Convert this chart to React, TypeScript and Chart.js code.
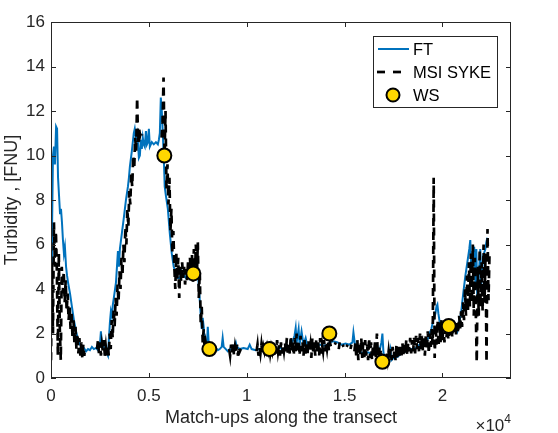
import { useEffect, useRef } from "react";
import { Chart, registerables } from "chart.js";

Chart.register(...registerables);

const FONT = "'Liberation Sans', Arial, Helvetica, sans-serif";
const TXT = "#262626";

const xTickValues = [0, 5000, 10000, 15000, 20000];
const yTickValues = [0, 2, 4, 6, 8, 10, 12, 14, 16];
const xLabel = "Match-ups along the transect";
const yLabel = "Turbidity , [FNU]";
const seriesNames = ["FT", "MSI SYKE", "WS"];

// FT (flow-through) readings: match-up index and turbidity
const ftX = [
  0, 50, 100, 150, 200, 260, 310, 360, 410, 460, 510, 560, 610, 660, 710, 770, 820, 870, 970, 1070,
  1170, 1280, 1380, 1480, 1580, 1680, 1790, 1890, 1990, 2090, 2190, 2300, 2400, 2500, 2550, 2600, 2700, 2810, 2910, 2960,
  3010, 3060, 3110, 3160, 3210, 3320, 3420, 3470, 3520, 3620, 3720, 3830, 3930, 3980, 4030, 4130, 4230, 4280, 4340, 4390,
  4440, 4490, 4540, 4590, 4640, 4690, 4740, 4790, 4850, 4900, 4950, 5000, 5050, 5100, 5150, 5250, 5360, 5460, 5510, 5560,
  5610, 5660, 5710, 5760, 5810, 5870, 5970, 6070, 6170, 6270, 6380, 6480, 6580, 6680, 6780, 6890, 6990, 7090, 7190, 7290,
  7400, 7500, 7600, 7650, 7700, 7750, 7800, 7850, 7910, 7960, 8010, 8060, 8110, 8210, 8310, 8420, 8520, 8620, 8720, 8770,
  8820, 8930, 9030, 9130, 9230, 9330, 9440, 9490, 9640, 9840, 10050, 10150, 10250, 10460, 10660, 10860, 11070, 11270, 11480, 11680,
  11880, 12090, 12290, 12440, 12500, 12550, 12650, 12700, 12800, 12900, 13010, 13110, 13310, 13520, 13720, 13920, 14130, 14230, 14430, 14640,
  14840, 15050, 15250, 15400, 15450, 15500, 15560, 15760, 15960, 16170, 16370, 16580, 16780, 16880, 16930, 16980, 17030, 17190, 17290, 17340,
  17390, 17490, 17700, 17900, 18100, 18310, 18510, 18720, 18820, 19020, 19230, 19330, 19430, 19530, 19640, 19690, 19740, 19790, 19840, 19940,
  20040, 20150, 20250, 20350, 20450, 20550, 20660, 20760, 20860, 20960, 21060, 21170, 21270, 21370, 21420, 21470, 21570, 21620, 21680, 21730,
  21780, 21880, 21930, 21980, 22080, 22190, 22240, 22290,
];
const ftY = [
  4.7, 6.5, 10.0, 10.4, 9.6, 11.3, 11.2, 9.0, 8.2, 7.4, 7.6, 7.0, 6.2, 5.6, 5.9, 5.0, 4.6, 4.3, 3.8, 3.2,
  2.6, 2.1, 1.7, 1.5, 1.4, 1.35, 1.2, 1.3, 1.25, 1.4, 1.3, 1.35, 1.25, 1.5, 2.1, 1.6, 1.4, 1.2, 1.0, 1.8,
  2.5, 3.0, 2.8, 3.3, 3.6, 4.3, 5.7, 5.0, 5.8, 6.5, 7.2, 8.0, 8.6, 9.0, 9.5, 10.2, 11.0, 11.2, 10.8, 11.0,
  10.6, 9.9, 10.0, 10.7, 10.3, 10.8, 10.5, 10.4, 11.1, 10.5, 10.6, 11.2, 10.4, 10.5, 10.6, 10.5, 10.6, 10.5, 10.7, 11.0,
  12.6, 12.0, 11.0, 10.0, 8.6, 8.2, 7.6, 6.5, 5.6, 5.0, 4.7, 4.5, 4.5, 4.8, 4.6, 4.5, 4.9, 4.5, 4.7, 4.6,
  5.0, 4.8, 3.5, 2.8, 2.2, 2.7, 2.3, 1.6, 1.3, 1.35, 2.3, 1.5, 1.3, 1.25, 1.3, 1.35, 1.25, 1.3, 1.4, 1.8,
  1.4, 1.3, 1.2, 1.3, 1.25, 1.35, 1.6, 1.4, 1.3, 1.35, 1.3, 1.5, 1.3, 1.25, 1.3, 1.3, 1.3, 1.25, 1.3, 1.35,
  1.3, 1.4, 1.5, 1.9, 2.25, 1.6, 2.2, 1.5, 2.1, 1.5, 1.8, 1.4, 1.45, 1.4, 1.5, 1.45, 1.5, 1.6, 1.65, 1.6,
  1.5, 1.55, 1.5, 1.6, 2.05, 1.7, 1.3, 1.2, 1.1, 1.15, 1.1, 1.15, 1.2, 1.6, 2.0, 1.2, 0.8, 0.75, 1.0, 1.25,
  0.8, 0.9, 0.95, 1.1, 1.2, 1.3, 1.3, 1.4, 1.5, 1.7, 1.7, 2.0, 2.2, 2.6, 2.9, 3.2, 3.3, 2.9, 2.6, 2.2,
  2.2, 2.1, 2.2, 2.1, 2.0, 2.2, 2.3, 2.1, 2.5, 3.0, 3.8, 4.6, 5.2, 5.8, 6.2, 5.0, 5.6, 5.9, 4.2, 5.8,
  3.5, 5.0, 5.8, 4.2, 5.5, 5.8, 6.1, 6.3,
];

// MSI SYKE readings, one every 50 match-ups (null = no retrieval)
const msiStep = 50;
const msiY: (number | null)[] = [
  0.8, 5.2, 2.0, 7.0, 5.0, 6.6, 4.8, 1.0, 5.6, 2.2, 0.8, 5.0, 3.8, 4.8, 3.4, 4.4, 3.0, 3.8, 2.6, 3.2,
  2.2, 3.0, 1.8, 2.6, 1.5, 2.3, 1.3, 2.0, 1.1, 1.8, 1.0, 1.6, 0.9, 1.5, 1.0, 1.4, null, null, null, null,
  null, null, null, null, null, null, null, 1.3, 1.7, 1.1, 1.6, 1.0, 1.5, 1.2, 1.7, 1.0, 1.4, 0.95, 1.5, 1.0,
  2.0, 1.3, 2.6, 1.8, 3.1, 2.3, 3.6, 2.8, 4.2, 3.4, 4.8, 4.0, 5.4, 4.6, 6.0, 5.2, 6.8, 6.0, 7.6, 6.8,
  8.4, 7.8, 9.2, 8.6, 10.0, 9.4, 10.8, 10.2, 12.6, 10.6, 11.2, 10.9, 11.1, 10.9, null, null, null, null, null, null,
  null, null, null, null, null, null, null, null, null, null, null, null, null, 10.8, 11.5, 13.5, 10.0, 12.0, 8.5, 9.6,
  7.8, 9.0, 6.6, 7.6, 5.6, 6.6, 5.0, 4.0, 5.6, 4.4, 5.4, 3.6, 5.0, 4.3, 5.2, 4.5, 5.0, 4.2, 4.9, 4.4,
  5.2, 4.5, 5.4, 4.6, 5.6, 4.3, 5.8, 4.4, 6.0, 4.5, 6.1, 3.6, 4.8, 2.4, 3.2, 1.6, 2.2, 1.3, 1.6, 1.3,
  1.2, 1.4, null, null, null, null, null, null, null, null, null, null, null, null, null, null, null, null, null, null,
  null, null, 1.3, 1.0, 1.5, 1.1, 1.6, 1.0, 1.4, 1.1, 1.5, 1.0, 1.4, 1.2, 1.3, null, null, null, null, null,
  null, null, null, null, null, null, null, null, null, null, 1.2, 1.5, 1.0, 1.4, 1.1, 1.5, 1.1, 1.4, 1.2, 1.5,
  1.1, 1.4, 1.2, 1.5, 1.1, 1.4, 1.2, 1.6, 1.0, 1.5, 1.1, 1.7, 1.2, 1.5, 1.0, 1.6, 1.1, 1.5, 1.2, 1.6,
  1.2, 1.8, 1.0, 1.6, 1.1, 1.9, 1.2, 1.7, 1.0, 1.8, 1.2, 2.0, 1.1, 1.7, 1.0, 1.9, 1.2, 1.6, 1.0, 1.7,
  1.1, 1.6, 1.0, 1.7, 1.2, 1.5, 0.9, 1.8, 1.1, 1.6, 1.0, 1.7, 1.2, 1.6, 1.0, 1.8, 1.1, 1.5, 1.2, 1.7,
  1.2, 1.6, 1.3, 1.7, 1.2, 1.6, 1.4, 1.7, null, null, 1.5, 1.6, null, null, 1.3, 1.6, null, null, 1.5, 1.4,
  null, null, 1.4, 1.5, null, null, 1.3, 1.5, null, null, 1.2, 1.6, 0.9, 1.7, 0.8, 1.6, 1.0, 1.8, 0.9, 1.6,
  0.8, 1.7, 1.0, 1.5, 0.8, 1.8, 0.9, 1.6, 0.8, 1.5, 1.0, 1.6, 0.9, 2.0, 1.0, 1.5, 0.8, 1.3, 0.9, 1.2,
  1.0, 0.7, null, 1.1, 0.8, 1.2, 0.8, 1.3, 0.8, 1.4, 0.9, 1.3, 0.8, 1.5, 0.9, 1.4, 1.0, 1.5, 0.9, 1.6,
  1.0, 1.6, 1.1, 1.7, 1.0, 1.6, 1.2, 1.8, 1.1, 1.7, 1.2, 1.8, 1.1, 1.9, 1.3, 1.8, 1.2, 2.0, 1.3, 1.9,
  1.2, 1.9, 1.0, 2.0, 1.3, 2.1, 1.1, 2.0, 1.4, 2.2, 1.5, 9.0, 0.9, 2.4, 1.5, 2.6, 1.4, 2.5, 1.6, 2.6,
  1.7, 2.4, 1.6, 2.5, 1.8, 2.3, 1.7, 2.4, 1.9, 2.5, 1.8, 2.6, 2.0, 2.5, 1.9, 2.6, 2.0, 2.8, 2.2, 3.0,
  2.3, 3.4, 2.6, 4.0, 2.8, 4.6, 3.0, 5.2, 3.2, 5.6, 3.4, 6.0, 2.8, 5.4, 3.0, 0.7, 5.0, 2.8, 5.8, 3.2,
  5.2, 3.0, 6.0, 3.4, 5.6, 0.7, 6.7, 3.5, 5.5,
];

// WS (water samples)
const wsX = [5790, 7270, 8090, 11160, 14220, 16930, 20320];
const wsY = [10.0, 4.7, 1.3, 1.3, 2.0, 0.73, 2.34];

const BLUE = "#0072BD";
const GOLD = "#FFD700";

export default function App() {
  const ref = useRef<HTMLCanvasElement | null>(null);

  useEffect(() => {
    document.body.style.margin = "0";
    const canvas = ref.current;
    if (!canvas) return;

    const decor = {
      id: "matlabDecor",
      afterDraw(chart: any) {
        const { ctx, chartArea: a } = chart;
        const xs = chart.scales.x;
        const ys = chart.scales.y;
        ctx.save();
        // box
        ctx.strokeStyle = TXT;
        ctx.lineWidth = 1;
        ctx.strokeRect(a.left + 0.5, a.top + 0.5, a.right - a.left - 1, a.bottom - a.top - 1);
        // inward ticks
        ctx.beginPath();
        for (const v of xTickValues) {
          const px = Math.round(xs.getPixelForValue(v)) + 0.5;
          ctx.moveTo(px, a.bottom);
          ctx.lineTo(px, a.bottom - 5);
          ctx.moveTo(px, a.top);
          ctx.lineTo(px, a.top + 5);
        }
        for (const v of yTickValues) {
          const py = Math.round(ys.getPixelForValue(v)) + 0.5;
          ctx.moveTo(a.left, py);
          ctx.lineTo(a.left + 5, py);
          ctx.moveTo(a.right, py);
          ctx.lineTo(a.right - 5, py);
        }
        ctx.stroke();

        // axis titles
        ctx.fillStyle = TXT;
        ctx.font = `18px ${FONT}`;
        ctx.textAlign = "center";
        ctx.textBaseline = "middle";
        ctx.fillText(xLabel, (a.left + a.right) / 2, 418);
        ctx.save();
        ctx.translate(12, (a.top + a.bottom) / 2);
        ctx.rotate(-Math.PI / 2);
        ctx.fillText(yLabel, 0, 0);
        ctx.restore();

        // exponent x10^4
        ctx.textAlign = "right";
        ctx.textBaseline = "alphabetic";
        ctx.font = `12px ${FONT}`;
        const w4 = ctx.measureText("4").width;
        ctx.fillText("4", a.right, 423);
        ctx.font = `17px ${FONT}`;
        ctx.fillText("\u00d710", a.right - w4, 431);

        // legend
        const lx = 373.5, ly = 36.5, lw = 124, lh = 71;
        ctx.fillStyle = "#ffffff";
        ctx.fillRect(lx, ly, lw, lh);
        ctx.strokeStyle = TXT;
        ctx.lineWidth = 1;
        ctx.strokeRect(lx, ly, lw, lh);
        const rows = [49, 72, 95];
        // FT
        ctx.strokeStyle = BLUE;
        ctx.lineWidth = 2;
        ctx.beginPath();
        ctx.moveTo(378, rows[0]);
        ctx.lineTo(409, rows[0]);
        ctx.stroke();
        // MSI
        ctx.strokeStyle = "#000";
        ctx.lineWidth = 2.7;
        ctx.setLineDash([8, 8]);
        ctx.beginPath();
        ctx.moveTo(377, rows[1]);
        ctx.lineTo(409, rows[1]);
        ctx.stroke();
        ctx.setLineDash([]);
        // WS
        ctx.beginPath();
        ctx.arc(393, rows[2], 6.5, 0, Math.PI * 2);
        ctx.fillStyle = GOLD;
        ctx.fill();
        ctx.lineWidth = 2;
        ctx.strokeStyle = "#000";
        ctx.stroke();
        ctx.fillStyle = "#000";
        ctx.font = `16.5px ${FONT}`;
        ctx.textAlign = "left";
        ctx.textBaseline = "middle";
        seriesNames.forEach((n, i) => ctx.fillText(n, 413, rows[i] + 1));
        ctx.restore();
      },
    };

    const chart = new Chart(canvas, {
      type: "line",
      data: {
        datasets: [
          {
            label: seriesNames[0],
            data: ftX.map((x, i) => ({ x, y: ftY[i] })),
            borderColor: BLUE,
            borderWidth: 2,
            pointRadius: 0,
            tension: 0,
            order: 3,
          },
          {
            label: seriesNames[1],
            data: msiY.map((y, i) => ({ x: i * msiStep, y })),
            borderColor: "#000",
            borderWidth: 2.7,
            borderDash: [8, 6],
            pointRadius: 0,
            tension: 0,
            spanGaps: false,
            order: 2,
          },
          {
            label: seriesNames[2],
            data: wsX.map((x, i) => ({ x, y: wsY[i] })),
            showLine: false,
            pointRadius: 7,
            pointBorderWidth: 2,
            pointBackgroundColor: GOLD,
            pointBorderColor: "#000",
            order: 1,
          },
        ],
      },
      options: {
        responsive: false,
        animation: false,
        events: [],
        layout: { padding: { top: 22, right: 47, left: 0, bottom: 0 } },
        plugins: { legend: { display: false }, tooltip: { enabled: false } },
        scales: {
          x: {
            type: "linear",
            min: 0,
            max: 23500,
            afterBuildTicks: (s: any) => {
              s.ticks = xTickValues.map((value) => ({ value }));
            },
            afterFit: (s: any) => {
              s.height = 55;
            },
            grid: { display: false, drawTicks: false },
            border: { display: false },
            ticks: {
              padding: 8,
              color: TXT,
              font: { family: FONT, size: 17 },
              maxRotation: 0,
              autoSkip: false,
              callback: (v: any) => String(Number(v) / 10000),
            },
          },
          y: {
            type: "linear",
            min: 0,
            max: 16,
            afterBuildTicks: (s: any) => {
              s.ticks = yTickValues.map((value) => ({ value }));
            },
            afterFit: (s: any) => {
              s.width = 51;
            },
            grid: { display: false, drawTicks: false },
            border: { display: false },
            ticks: {
              padding: 6,
              color: TXT,
              font: { family: FONT, size: 17 },
              autoSkip: false,
            },
          },
        },
      },
      plugins: [decor],
    });
    return () => chart.destroy();
  }, []);

  return (
    <div style={{ width: 558, height: 433 }}>
      <canvas ref={ref} width={558} height={433} style={{ display: "block" }} />
    </div>
  );
}
